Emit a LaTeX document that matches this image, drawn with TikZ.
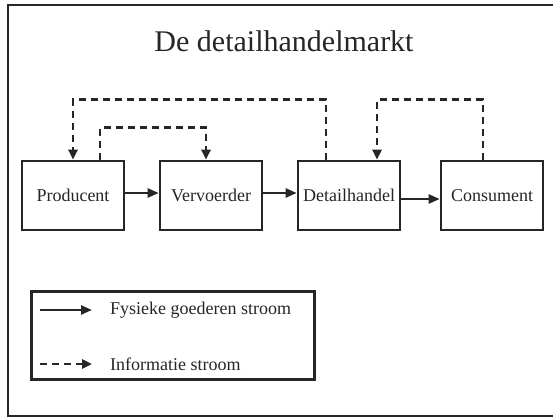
\documentclass[tikz,border=0pt]{standalone}
\usepackage{fontspec}
\setmainfont{Liberation Serif}
\usetikzlibrary{arrows.meta}
\begin{document}
\begin{tikzpicture}[x=1pt,y=-1pt,
  actor/.style={draw=black!85,line width=2.6pt,minimum width=102pt,minimum height=69pt,inner sep=0pt,
    font=\fontsize{18}{20}\selectfont,text=black!85},
  flow/.style={line width=2.4pt,draw=black!85,-{Triangle[length=11pt,width=9pt]}},
  info/.style={line width=2.8pt,draw=black!85,dash pattern=on 7pt off 5pt,-{Triangle[length=10pt,width=9pt]}},
  lbl/.style={font=\fontsize{18}{20}\selectfont,text=black!85,anchor=west,inner sep=0pt}]
\useasboundingbox (0,0) rectangle (553,417);
\fill[white] (0,0) rectangle (553,417);
\draw[line width=2.4pt,black!85] (553,5) -- (8,5) -- (8,416) -- (553,416);
\node[font=\fontsize{30}{34}\selectfont,text=black!85,anchor=base] (title) at (284,52) {De detailhandelmarkt};
\node[actor] (prod) at (73,195.5) {Producent};
\node[actor] (verv) at (211,195.5) {Vervoerder};
\node[actor] (det) at (349,195.5) {Detailhandel};
\node[actor] (cons) at (492,195.5) {Consument};
\draw[flow] ([yshift=2.5pt]prod.east) -- ([yshift=2.5pt]verv.west);
\draw[flow] ([yshift=2.5pt]verv.east) -- ([yshift=2.5pt]det.west);
\draw[flow] ([yshift=-3.5pt]det.east) -- ([yshift=-3.5pt]cons.west);
\draw[info] ([xshift=-23pt]det.north) -- ++(0,-60) -| (prod.north);
\draw[info] ([xshift=27pt]prod.north) -- ++(0,-32) -| ([xshift=-5pt]verv.north);
\draw[info] ([xshift=-9pt]cons.north) -- ++(0,-60) -| ([xshift=28pt]det.north);
\node[draw=black!85,line width=2.6pt,minimum width=283pt,minimum height=88pt,inner sep=0pt,anchor=north west] (legend) at (30,290) {};
\coordinate (fa) at (40,310);
\coordinate (fb) at (92,310);
\coordinate (ia) at (40,364);
\coordinate (ib) at (92,364);
\draw[flow] (fa) -- (fb);
\draw[info] (ia) -- (ib);
\node[lbl] (ltxt1) at (110,310) {Fysieke goederen stroom};
\node[lbl] (ltxt2) at (110,364) {Informatie stroom};
\end{tikzpicture}
\end{document}
